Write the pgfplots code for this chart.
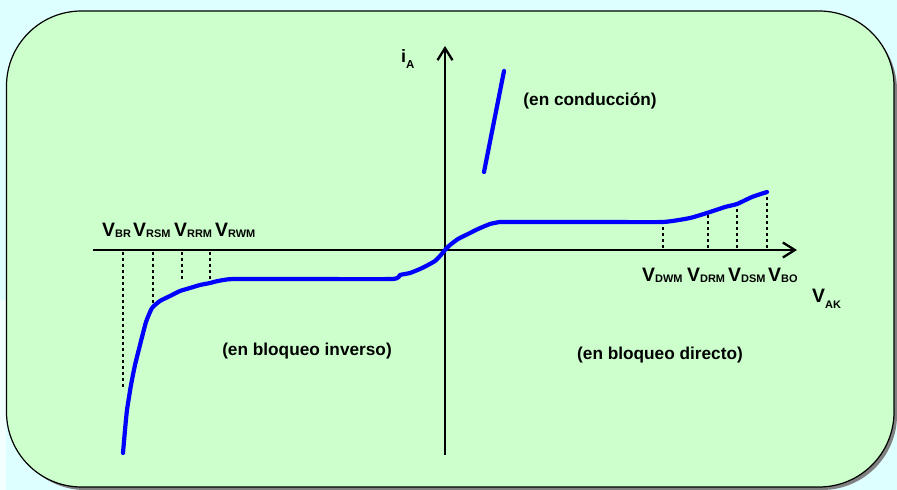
\documentclass[border=0pt]{standalone}
\usepackage{pgfplots}
\pgfplotsset{compat=1.18}
\usetikzlibrary{arrows.meta}
\usepackage{fontspec}
\setmainfont{Liberation Sans}
\definecolor{bgcyan}{RGB}{222,255,255}
\definecolor{boxgreen}{RGB}{204,255,204}
\definecolor{shadowgray}{RGB}{128,128,128}
\newcommand\lab[3]{{\fontsize{19.5}{19.5}\selectfont #1}\raisebox{-#3}{\fontsize{11}{11}\selectfont #2}}
\begin{document}
\begin{tikzpicture}
\begin{axis}[
  scale only axis, width=897bp, height=490bp,
  xmin=0, xmax=897, ymin=0, ymax=490, y dir=reverse,
  hide axis, clip=false,
]
% background
\fill[bgcyan] (axis cs:0,0) rectangle (axis cs:897,490);
\fill[white, opacity=0.6] (axis cs:0,300) rectangle (axis cs:6,490);
% shadow
\fill[shadowgray, rounded corners=75bp] (axis cs:10,15) rectangle (axis cs:897,490);
% box
\draw[fill=boxgreen, line width=1.2bp, rounded corners=75bp] (axis cs:6.5,11) rectangle (axis cs:894,487);
% dotted lines
\begin{scope}[black, line width=2.2bp, dash pattern=on 3bp off 3bp]
\draw (axis cs:123,252) -- (axis cs:123,390);
\draw (axis cs:153,252) -- (axis cs:153,306);
\draw (axis cs:182,252) -- (axis cs:182,280);
\draw (axis cs:210,252) -- (axis cs:210,281);
\draw (axis cs:663,248) -- (axis cs:663,224);
\draw (axis cs:708,248) -- (axis cs:708,214);
\draw (axis cs:737,248) -- (axis cs:737,206);
\draw (axis cs:767,248) -- (axis cs:767,194);
\end{scope}
% axes
\draw[line width=2.3bp, -{Straight Barb[length=12bp,width=15bp,line width=2.3bp]}] (axis cs:93,250) -- (axis cs:797,250);
\draw[line width=2.3bp, -{Straight Barb[length=12bp,width=15bp,line width=2.3bp]}] (axis cs:445,455) -- (axis cs:445,46);
% curve
\addplot[blue, line width=4.2bp, line join=round, line cap=round, smooth, tension=0.3] coordinates {
 (123,453) (125,430) (127,410) (131,385) (135,365) (140,345) (146,322) (152,308)
 (160,301) (170,296) (180,291) (190,288) (200,285) (210,283) (218,281) (233,279)
 (300,279) (392,279) (400,275) (410,273) (420,269) (428,265) (435,261) (440,256)
 (445,250) (450,245) (458,239) (468,234) (478,229) (490,224) (500,222) (510,222)
 (600,222) (663,222) (690,218) (710,212) (725,207) (737,204) (752,197) (767,192)
};
\addplot[blue, line width=4.2bp, line cap=round] coordinates {(484,172) (504,71)};
% labels
\begin{scope}[every node/.style={inner sep=0pt, anchor=base west, font=\bfseries}]
\node at (axis cs:102,237) {\lab{V}{BR}{1bp}};
\node at (axis cs:133,237) {\lab{V}{RSM}{1bp}};
\node at (axis cs:174,237) {\lab{V}{RRM}{1bp}};
\node at (axis cs:215,237) {\lab{V}{RWM}{1bp}};
\node at (axis cs:642,282) {\lab{V}{DWM}{1bp}};
\node at (axis cs:687,282) {\lab{V}{DRM}{1bp}};
\node at (axis cs:728,282) {\lab{V}{DSM}{1bp}};
\node at (axis cs:768,282) {\lab{V}{BO}{1bp}};
\node at (axis cs:812,303) {\lab{V}{AK}{6bp}};
\node at (axis cs:401,63) {{\fontsize{18}{18}\selectfont i}\raisebox{-6bp}{\fontsize{11.5}{11.5}\selectfont A}};
\end{scope}
\begin{scope}[every node/.style={inner sep=0pt, anchor=center, font=\bfseries\fontsize{17.3}{17.3}\selectfont}]
\node at (axis cs:307,351) {(en bloqueo inverso)};
\node at (axis cs:660,355) {(en bloqueo directo)};
\node at (axis cs:590,101) {(en conducción)};
\end{scope}
\end{axis}
\end{tikzpicture}
\end{document}
